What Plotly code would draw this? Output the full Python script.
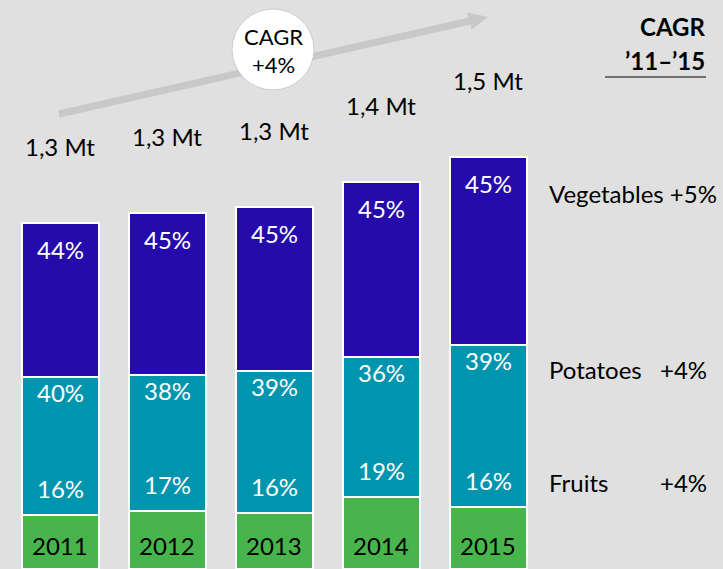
import plotly.graph_objects as go

W, H = 723, 569

years = ["2011", "2012", "2013", "2014", "2015"]
total_labels = ["1,3 Mt", "1,3 Mt", "1,3 Mt", "1,4 Mt", "1,5 Mt"]
veg_share = ["44%", "45%", "45%", "45%", "45%"]
pot_share = ["40%", "38%", "39%", "36%", "39%"]
fruit_share = ["16%", "17%", "16%", "19%", "16%"]
# visible segment heights (chart units)
green_h = [54, 58, 56, 72, 62]
teal_h = [138, 136, 142, 140, 162]
blue_h = [154, 162, 164, 175, 188]

cagr_names = ["Vegetables", "Potatoes", "Fruits"]
cagr_values = ["+5%", "+4%", "+4%"]

BG = "#dfe0df"
BLUE = "#250bab"
TEAL = "#0095ae"
GREEN = "#47b54c"
FONT = "Lato"
FS = 24

fig = go.Figure()
for vals, col in [(green_h, GREEN), (teal_h, TEAL), (blue_h, BLUE)]:
    fig.add_trace(go.Bar(x=years, y=vals, width=0.72, marker=dict(color=col, line=dict(color="white", width=1.5)),
                         hoverinfo="skip"))

ann = []
for i, yr in enumerate(years):
    g = green_h[i]
    gt = g + teal_h[i]
    tot = gt + blue_h[i]
    ann.append(dict(x=i, y=tot, text=total_labels[i], yshift=77, font=dict(color="black")))
    ann.append(dict(x=i, y=tot, text=veg_share[i], yshift=-26, font=dict(color="white")))
    ann.append(dict(x=i, y=gt, text=pot_share[i], yshift=-15, font=dict(color="white")))
    ann.append(dict(x=i, y=g, text=fruit_share[i], yshift=27, font=dict(color="white")))
    ann.append(dict(x=i, y=0, text=yr, yshift=24, font=dict(color="black")))

for a in ann:
    a.update(showarrow=False, xref="x", yref="y", yanchor="middle", xanchor="center")
    a["font"].update(family=FONT, size=FS)

def px(x):
    return x / W

def py(y):
    return 1 - y / H

# right-side CAGR labels aligned with last bar segments
last = len(years) - 1
g = green_h[last]; gt = g + teal_h[last]; tot = gt + blue_h[last]
ann.append(dict(xref="paper", x=px(547), y=tot, yref="y", yshift=-36, text=cagr_names[0] + " " + cagr_values[0],
                xanchor="left", showarrow=False, font=dict(family=FONT, size=FS, color="black")))
ann.append(dict(xref="paper", x=px(547), y=gt, yref="y", yshift=-24, text=cagr_names[1],
                xanchor="left", showarrow=False, font=dict(family=FONT, size=FS, color="black")))
ann.append(dict(xref="paper", x=px(709), y=gt, yref="y", yshift=-24, text=cagr_values[1],
                xanchor="right", showarrow=False, font=dict(family=FONT, size=FS, color="black")))
ann.append(dict(xref="paper", x=px(547), y=g, yref="y", yshift=25, text=cagr_names[2],
                xanchor="left", showarrow=False, font=dict(family=FONT, size=FS, color="black")))
ann.append(dict(xref="paper", x=px(709), y=g, yref="y", yshift=25, text=cagr_values[2],
                xanchor="right", showarrow=False, font=dict(family=FONT, size=FS, color="black")))

# header
ann.append(dict(xref="paper", yref="paper", x=px(707), y=py(27), text="<b>CAGR</b>", xanchor="right",
                yanchor="middle", showarrow=False, font=dict(family=FONT, size=FS, color="black")))
ann.append(dict(xref="paper", yref="paper", x=px(707), y=py(60), text="<b>\u201911\u2013\u201915</b>", xanchor="right",
                yanchor="middle", showarrow=False, font=dict(family=FONT, size=FS, color="black")))
# circle text
ann.append(dict(xref="paper", yref="paper", x=px(273), y=py(37), text="CAGR", xanchor="center",
                yanchor="middle", showarrow=False, font=dict(family=FONT, size=22, color="black")))
ann.append(dict(xref="paper", yref="paper", x=px(273), y=py(65), text="+4%", xanchor="center",
                yanchor="middle", showarrow=False, font=dict(family=FONT, size=22, color="black")))

shapes = [
    dict(type="line", xref="paper", yref="paper", x0=px(59), y0=py(114), x1=px(470), y1=py(21),
         line=dict(color="#c8c8c8", width=7), layer="below"),
    dict(type="path", xref="paper", yref="paper",
         path=f"M {px(488)} {py(17)} L {px(471.5)} {py(29.5)} L {px(467)} {py(12.5)} Z",
         fillcolor="#c8c8c8", line=dict(width=0), layer="below"),
    dict(type="circle", xref="paper", yref="paper", x0=px(232), x1=px(314), y0=py(9), y1=py(90),
         fillcolor="white", line=dict(color="#cccccc", width=1), layer="above"),
    dict(type="line", xref="paper", yref="paper", x0=px(605), x1=px(706), y0=py(77), y1=py(77),
         line=dict(color="black", width=1.2)),
]

fig.update_layout(
    width=W, height=H, barmode="stack", showlegend=False,
    paper_bgcolor=BG, plot_bgcolor=BG,
    margin=dict(l=0, r=0, t=0, b=0),
    xaxis=dict(type="category", range=[-0.565, 6.192], visible=False, fixedrange=True),
    yaxis=dict(range=[0, H], visible=False, fixedrange=True),
    annotations=ann, shapes=shapes,
)

fig.write_html("out.html", config={"displayModeBar": False},
               post_script="document.body.style.margin='0';document.body.style.background='%s';" % BG)
